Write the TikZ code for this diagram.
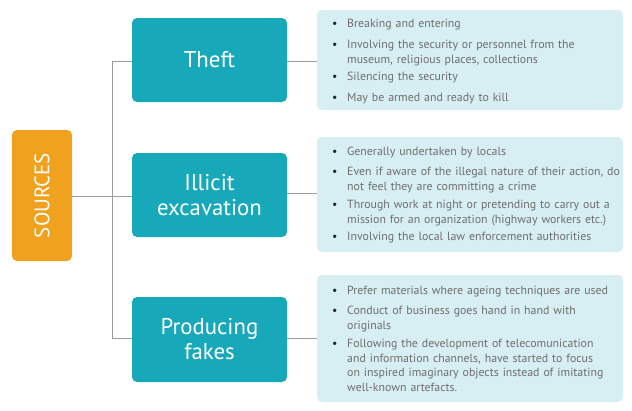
\documentclass[tikz,border=0pt]{standalone}
\usepackage{fontspec}
\setmainfont{PT Sans}
\definecolor{teal}{HTML}{17A8B9}
\definecolor{orng}{HTML}{F0A21E}
\definecolor{panel}{HTML}{D7EEF3}
\definecolor{txt}{HTML}{6E6E6E}
\definecolor{conn}{HTML}{9C9C9C}
\newcommand{\bitem}[1]{\noindent\makebox[15pt][l]{\color{black!85}\textbullet}\parbox[t]{280pt}{#1}\par}
\tikzset{
  catbox/.style={fill=teal, rounded corners=5pt, text=white, align=center,
    font=\fontsize{22.8}{25}\selectfont, inner sep=0pt},
  srcbox/.style={fill=orng, rounded corners=5pt, text=white,
    font=\fontsize{21}{24}\selectfont, inner sep=0pt},
  panelbox/.style={fill=panel, rounded corners=5pt, inner sep=0pt},
  plist/.style={text=txt, text width=290pt, inner sep=0pt, anchor=west,
    font=\fontsize{11.85}{14.9}\selectfont, align=left},
  link/.style={draw=conn, line width=0.9pt}
}
\begin{document}
\begin{tikzpicture}[x=1pt,y=-1pt]
\useasboundingbox (0,0) rectangle (632,410);
% sources
\path[srcbox] (12,130) rectangle (72,261);
\node[text=white, font=\fontsize{21}{24}\selectfont, rotate=90] (src) at (42,195.5) {SOURCES};
\coordinate (srcE) at (72,196);
% category boxes
\path[catbox] (132,18) rectangle (287,102);
\node[catbox, fill=none] (theft) at (209.5,60) {Theft};
\path[catbox] (132,153) rectangle (287,237);
\node[catbox, fill=none] (illicit) at (209.5,195) {Illicit\\excavation};
\path[catbox] (132,297) rectangle (287,382);
\node[catbox, fill=none] (fakes) at (209.5,339.5) {Producing\\fakes};
\coordinate (theftW) at (132,61);
\coordinate (illW) at (132,196);
\coordinate (fakW) at (132,338);
\coordinate (theftE) at (287,61);
\coordinate (illE) at (287,193);
\coordinate (fakE) at (287,338);
% panels
\path[panelbox] (317,10) rectangle (623,110);
\path[panelbox] (317,137) rectangle (623,252);
\path[panelbox] (317,275) rectangle (623,402);
\coordinate (p1W) at (317,61);
\coordinate (p2W) at (317,193);
\coordinate (p3W) at (317,338);
% trunk
\coordinate (tTop) at (112,61);
\coordinate (tBot) at (112,338);
\draw[link] (theftW) -- (tTop) -- (tBot) -- (fakW);
\draw[link] (srcE) -- (illW);
\draw[link] (theftE) -- (p1W);
\draw[link] (illE) -- (p2W);
\draw[link] (fakE) -- (p3W);
% texts
\node[plist] (t1) at (332,61.5) {\setlength{\parskip}{5.5pt}%
\bitem{Breaking and entering}
\bitem{Involving the security or personnel from the\\museum, religious places, collections}
\bitem{Silencing the security}
\bitem{May be armed and ready to kill}};
\node[plist] (t2) at (332,195) {\setlength{\parskip}{5.5pt}%
\bitem{Generally undertaken by locals}
\bitem{Even if aware of the illegal nature of their action, do\\not feel they are committing a crime}
\bitem{Through work at night or pretending to carry out a\\mission for an organization (highway workers etc.)}
\bitem{Involving the local law enforcement authorities}};
\node[plist] (t3) at (332,339) {\setlength{\parskip}{5.5pt}%
\bitem{Prefer materials where ageing techniques are used}
\bitem{Conduct of business goes hand in hand with\\originals}
\bitem{Following the development of telecomunication\\and information channels, have started to focus\\on inspired imaginary objects instead of imitating\\well-known artefacts.}};
\end{tikzpicture}
\end{document}
